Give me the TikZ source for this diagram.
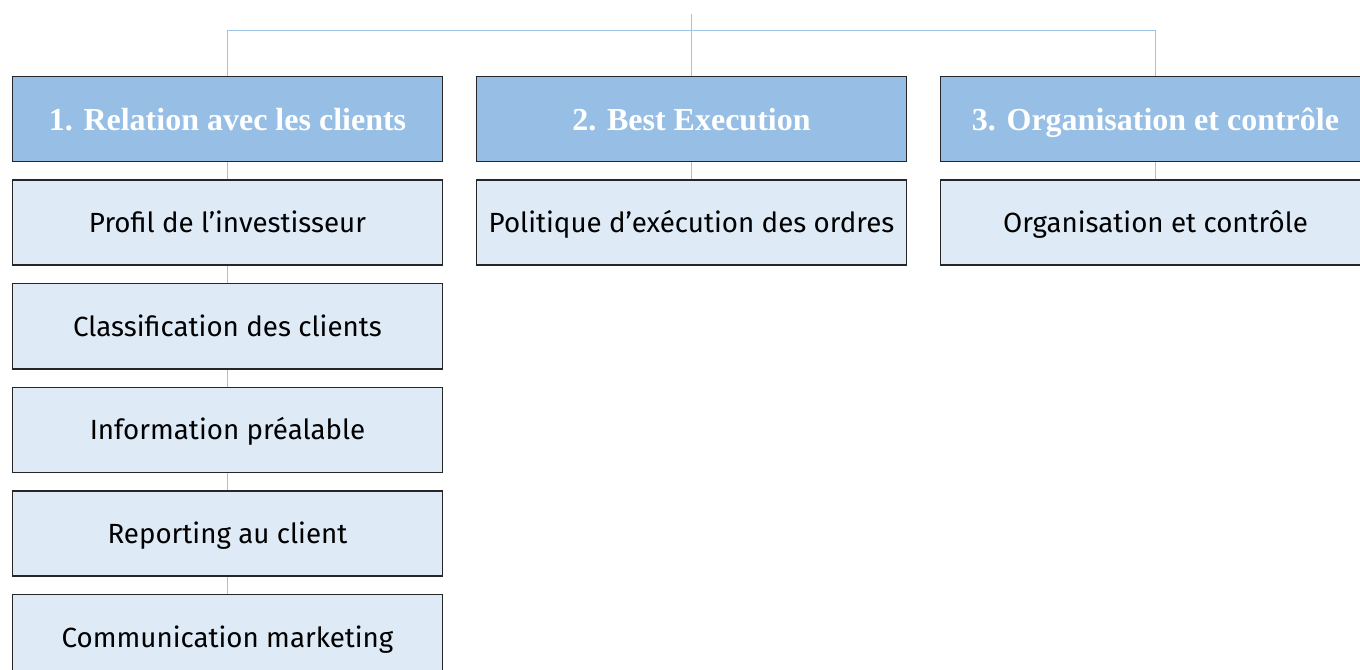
\documentclass[tikz,border=0pt]{standalone}
\usepackage{fontspec}
\setsansfont{Fira Sans}
\newfontfamily\headfont{Liberation Serif}
\usetikzlibrary{positioning}
\definecolor{mifidblue}{HTML}{97BFE5}
\definecolor{mifidpale}{HTML}{DEEAF6}
\definecolor{mifidline}{HTML}{9DC3E6}
\tikzset{mifidbox/.style={draw=black!85,line width=1.2pt,minimum width=322.5pt,minimum height=63.75pt,inner sep=0pt,text depth=0pt},
  mifidhead/.style={mifidbox,fill=mifidblue,text=white,text height=18pt,font=\headfont\bfseries\fontsize{24}{28}\selectfont},
  mifidsub/.style={mifidbox,fill=mifidpale,text height=15pt,font=\sffamily\fontsize{20.8}{25}\selectfont},
  mifidlink/.style={draw=mifidline,line width=0.75pt}}

\begin{document}
\begin{tikzpicture}[x=0.75pt,y=-0.75pt,node distance=12.75pt]
\useasboundingbox (0,0) rectangle (1360,670);
% headers
\node (rel)  [mifidhead] at (227.5,119)  {1. Relation avec les clients};
\node (best) [mifidhead] at (691.5,119)  {2. Best Execution};
\node (org)  [mifidhead] at (1155.5,119) {3. Organisation et contrôle};
% column 1
\node (rel1) [mifidsub,below=of rel]  {Profil de l’investisseur};
\node (rel2) [mifidsub,below=of rel1] {Classification des clients};
\node (rel3) [mifidsub,below=of rel2] {Information préalable};
\node (rel4) [mifidsub,below=of rel3] {Reporting au client};
\node (rel5) [mifidsub,below=of rel4] {Communication marketing};
% columns 2 and 3
\node (best1) [mifidsub,below=of best] {Politique d’exécution des ordres};
\node (org1)  [mifidsub,below=of org]  {Organisation et contrôle};
% top bar
\coordinate (top) at (691.5,14);
\coordinate (bar) at (691.5,31);
\draw[mifidlink] (top) -- (best);
\draw[mifidlink] (rel) -- (rel |- bar) -- (org |- bar) -- (org);
% links
\draw[mifidlink] (rel) -- (rel1);
\draw[mifidlink] (rel1) -- (rel2);
\draw[mifidlink] (rel2) -- (rel3);
\draw[mifidlink] (rel3) -- (rel4);
\draw[mifidlink] (rel4) -- (rel5);
\draw[mifidlink] (best) -- (best1);
\draw[mifidlink] (org) -- (org1);
\end{tikzpicture}
\end{document}
